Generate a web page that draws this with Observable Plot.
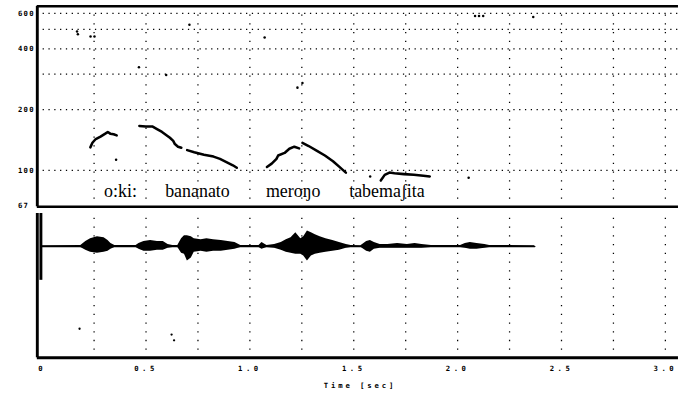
<!DOCTYPE html>
<html><head><meta charset="utf-8">
<script src="https://cdn.jsdelivr.net/npm/d3@7"></script>
<script src="https://cdn.jsdelivr.net/npm/@observablehq/plot@0.6"></script>
<style>
html,body{margin:0;padding:0;background:#fff;overflow:hidden;width:678px;height:398px}
#p1,#p2{position:absolute;left:0}
#p1{top:0}
#p2{top:213px}
svg{display:block}
.yl text{letter-spacing:1.3px}
.xl text{letter-spacing:3.6px}
.tl text{letter-spacing:3px}
</style></head><body><div id="p1"></div><div id="p2"></div>
<script>
// ---- axis ticks ----
const xTicks = [0, 0.5, 1, 1.5, 2, 2.5, 3];
const xTickLabels = ["0", "0.5", "1.0", "1.5", "2.0", "2.5", "3.0"];
const xGrid = [0.25, 0.5, 0.75, 1, 1.25, 1.5, 1.75, 2, 2.25, 2.5, 2.75, 3];
const yTicks = [600, 400, 200, 100, 67];
const yGrid = [600, 500, 400, 300, 200, 100];
const xTitle = "Time [sec]";

// ---- F0 contours [time s, Hz] ----
const okiF0 = [[0.232,130],[0.242,137],[0.258,143],[0.281,147],[0.304,152],[0.316,155],[0.328,152],[0.344,151],[0.359,149]];
const bananaF0a = [[0.468,166],[0.499,165],[0.530,165],[0.553,160],[0.577,155],[0.600,149],[0.615,145],[0.631,140],[0.639,135],[0.654,131],[0.670,129.5]];
const bananaF0b = [[0.698,126],[0.732,123],[0.779,119.5],[0.825,117],[0.856,114],[0.887,110],[0.918,106],[0.937,103]];
const meronoRise = [[1.082,104],[1.105,108],[1.128,114],[1.136,118.5],[1.167,122],[1.190,128],[1.214,131],[1.237,128.5]];
const meronoFall = [[1.253,137],[1.283,132],[1.323,125],[1.361,118.5],[1.400,111],[1.431,104],[1.462,97.5]];
const tabemaF0 = [[1.630,89],[1.649,95],[1.672,97.5],[1.696,96.8],[1.742,95.8],[1.789,95],[1.835,94],[1.866,93.3]];
const strayF0 = [[0.168,488],[0.172,472],[0.233,461],[0.252,461],[0.466,324],[0.597,297],[0.709,527],[0.356,113],
  [1.071,455],[1.229,257],[1.253,271],[2.084,582],[2.103,582],[2.123,582],[2.364,575],[2.053,92],[1.579,93.3]];

// ---- word labels ----
const words = ["o:ki:", "bananato", "meroŋo", "tabemaʃita"];
const wordTimes = [0.298, 0.592, 1.077, 1.478];

// ---- waveform envelope [time s, upper, lower] (arbitrary amplitude units) ----
const waveEnvelope = [[0,0.8,0.8],[0.186,1,1],[0.210,5,4],[0.233,8,6],[0.266,10,7],[0.298,9,6],[0.317,6,5],[0.331,3,3],[0.350,1,1],
  [0.452,1,1],[0.466,3,3],[0.490,5,5],[0.522,6,5],[0.555,5,4],[0.583,5,4],[0.606,2,2],[0.629,1,1],
  [0.653,1,1],[0.671,8,7],[0.685,11,8],[0.699,11,15],[0.718,10,12],[0.732,8,6],[0.765,7,5],[0.793,8,6],[0.825,7,5],[0.862,6,5],[0.895,5,4],[0.928,4,3],[0.956,1,1],
  [1.044,1,1],[1.058,4,3],[1.082,1,1],[1.119,2,2],[1.151,4,4],[1.175,7,6],[1.198,9,7],[1.221,14,8],[1.245,8,8],[1.259,10,10],[1.277,16,15],[1.296,14,10],[1.315,12,8],[1.338,10,7],[1.366,8,6],[1.399,6,5],[1.431,4,4],[1.464,2,2],[1.487,1,1],
  [1.534,0.8,0.8],[1.562,5,5],[1.580,6,6],[1.599,4,3],[1.627,2,2],[1.664,2,2],[1.711,3,2],[1.758,2,2],[1.795,3,2],[1.828,2,2],[1.874,1,1],
  [2.014,1,1],[2.037,3,2],[2.061,4,3],[2.093,3,3],[2.131,2,2],[2.154,1,1],[2.371,0.8,0.8]];
const waveStray = [[0.180,-85],[0.623,-91],[0.635,-97]];
const onsetBar = [[-0.006,-35,34]];

const segments = [okiF0, bananaF0a, bananaF0b, meronoRise, meronoFall, tabemaF0];
const f0Rows = segments.flatMap((s, k) => s.map(([t, hz]) => ({t, hz, k})));

const W = 700, xDomain = [-0.0233, 3.063];
const monoFont = "DejaVu Sans Mono";

const p1 = Plot.plot({
  width: W, height: 222, marginLeft: 38, marginRight: 0, marginTop: 6, marginBottom: 9,
  x: {domain: xDomain, axis: null},
  y: {type: "log", domain: [66, 650], axis: null},
  style: {background: "white"},
  marks: [
    Plot.ruleY(yGrid, {stroke: "#000", strokeWidth: 1.3, strokeDasharray: "1.3,4.7"}),
    Plot.ruleX(xGrid, {stroke: "#000", strokeWidth: 1.3, strokeDasharray: "1.3,7.7"}),
    Plot.ruleY([650], {stroke: "#000", strokeWidth: 2.6}),
    Plot.ruleY([66], {stroke: "#000", strokeWidth: 2.6}),
    Plot.ruleX([xDomain[0]], {stroke: "#000", strokeWidth: 3}),
    Plot.line(f0Rows, {x: "t", y: "hz", z: "k", stroke: "#000", strokeWidth: 2.6, strokeLinecap: "round", strokeLinejoin: "round"}),
    Plot.dot(strayF0, {x: d => d[0], y: d => d[1], r: 1.3, fill: "#000", stroke: null}),
    Plot.text(words, {x: (d, i) => wordTimes[i], y: 74, text: d => d, textAnchor: "start", lineAnchor: "bottom",
      fontFamily: "Liberation Serif", fontSize: 18.5, fill: "#000"}),
    Plot.text(yTicks, {y: d => d, text: d => String(d), frameAnchor: "left", dx: -20, textAnchor: "start",
      fontFamily: monoFont, fontWeight: "bold", fontSize: 7.5, fill: "#000", className: "yl"})
  ]
});
document.getElementById("p1").append(p1);

const p2 = Plot.plot({
  width: W, height: 185, marginLeft: 38, marginRight: 0, marginTop: 0, marginBottom: 36,
  x: {domain: xDomain, axis: null},
  y: {domain: [-115, 34], axis: null},
  style: {background: "transparent"},
  marks: [
    Plot.ruleX(xGrid, {stroke: "#000", strokeWidth: 1.3, strokeDasharray: "1.3,7.7", strokeDashoffset: 4}),
    Plot.ruleY([-115], {stroke: "#000", strokeWidth: 3}),
    Plot.ruleX([xDomain[0]], {stroke: "#000", strokeWidth: 3}),
    Plot.ruleX(onsetBar, {x: d => d[0], y1: d => d[1], y2: d => d[2], stroke: "#000", strokeWidth: 3}),
    Plot.areaY(waveEnvelope, {x: d => d[0], y1: d => -d[2], y2: d => d[1], fill: "#000"}),
    Plot.line(waveEnvelope, {x: d => d[0], y: 0, stroke: "#000", strokeWidth: 1.6}),
    Plot.dot(waveStray, {x: d => d[0], y: d => d[1], r: 1.2, fill: "#000", stroke: null}),
    Plot.text(xTicks, {x: d => d, text: (d, i) => xTickLabels[i], frameAnchor: "bottom", dy: 14,
      fontFamily: monoFont, fontWeight: "bold", fontSize: 7.5, fill: "#000", className: "xl"}),
    Plot.text([xTitle], {x: [1.53], frameAnchor: "bottom", dy: 31, text: d => d,
      fontFamily: monoFont, fontWeight: "bold", fontSize: 7.5, fill: "#000", className: "tl"})
  ]
});
document.getElementById("p2").append(p2);
</script>
</body></html>
